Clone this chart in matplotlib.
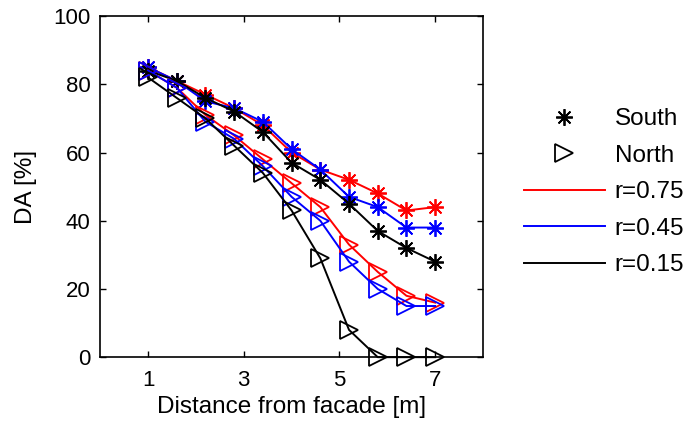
import matplotlib
matplotlib.use("Agg")
import matplotlib.pyplot as plt
from matplotlib.lines import Line2D

plt.rcParams['font.family'] = ['Liberation Sans', 'DejaVu Sans']

distance = [1.0, 1.6, 2.2, 2.8, 3.4, 4.0, 4.6, 5.2, 5.8, 6.4, 7.0]

south_r075 = [85, 81, 77, 73, 68, 60, 55, 52, 48, 43, 44]
south_r045 = [85, 81, 75, 73, 69, 61, 55, 47, 44, 38, 38]
south_r015 = [84, 81, 76, 72, 66, 57, 52, 45, 37, 32, 28]

north_r075 = [84, 79, 71, 65, 58, 51, 44, 33, 25, 18, 16]
north_r045 = [84, 79, 69, 64, 56, 47, 40, 28, 20, 15, 15]
north_r015 = [82, 76, 70, 62, 54, 43, 29, 8, 0, 0, 0]

x_ticks = [1, 3, 5, 7]
y_ticks = [0, 20, 40, 60, 80, 100]

fig = plt.figure(figsize=(6.91, 4.34), dpi=100)
ax = fig.add_axes([0.145, 0.177, 0.554, 0.786])

star = (8, 2, 0)
series = [
    (south_r075, 'red', star), (south_r045, 'blue', star), (south_r015, 'black', star),
    (north_r075, 'red', '>'), (north_r045, 'blue', '>'), (north_r015, 'black', '>'),
]
for vals, c, m in series:
    ms = 13 if m == '>' else 12
    ax.plot(distance, vals, color=c, lw=1.4, marker=m, ms=ms,
            markerfacecolor='none', markeredgecolor=c, markeredgewidth=1.3,
            clip_on=False, zorder=3)

ax.set_xlim(0, 8)
ax.set_ylim(0, 100)
ax.set_xticks(x_ticks)
ax.set_yticks(y_ticks)
ax.tick_params(direction='in', top=True, right=True, length=4, width=1,
               labelsize=16)
ax.tick_params(axis='x', pad=9)
ax.tick_params(axis='y', pad=7)
for s in ax.spines.values():
    s.set_linewidth(1.2)
ax.set_xlabel('Distance from facade [m]', fontsize=17.5, labelpad=4)
ax.set_ylabel('DA [%]', fontsize=17.5, labelpad=12)

handles = [
    Line2D([], [], ls='none', marker=star, ms=12, color='black', markeredgewidth=1.3),
    Line2D([], [], ls='none', marker='>', ms=13, color='black', markerfacecolor='none', markeredgewidth=1.3),
    Line2D([], [], color='red', lw=1.4),
    Line2D([], [], color='blue', lw=1.4),
    Line2D([], [], color='black', lw=1.4),
]
labels = ['South', 'North', 'r=0.75', 'r=0.45', 'r=0.15']
fig.legend(handles, labels, loc='upper left', bbox_to_anchor=(0.758, 0.751),
           frameon=False, fontsize=17.5, handlelength=3.33, handletextpad=0.41,
           labelspacing=0.6, borderpad=0, borderaxespad=0)

fig.savefig('out.png', dpi=100)
